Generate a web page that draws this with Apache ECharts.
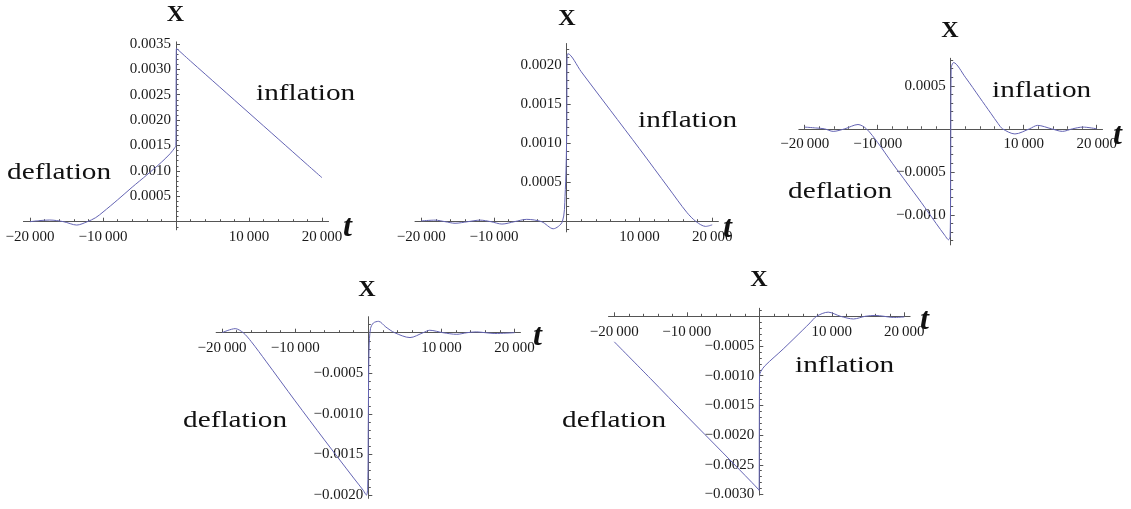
<!DOCTYPE html>
<html>
<head>
<meta charset="utf-8">
<script src="https://cdn.jsdelivr.net/npm/echarts@6/dist/echarts.min.js"></script>
<style>
  html, body { margin: 0; padding: 0; background: #ffffff; }
  #chart { width: 1131px; height: 509px; }
</style>
</head>
<body>
<div id="chart"></div>
<script>
// ---- tick labels ----
const tTickLabels = [-20000, -10000, 10000, 20000];
const xTicksP1 = [0.0005, 0.0010, 0.0015, 0.0020, 0.0025, 0.0030, 0.0035];
const xTicksP2 = [0.0005, 0.0010, 0.0015, 0.0020];
const xTicksP3 = [-0.0010, -0.0005, 0.0005];
const xTicksP4 = [-0.0020, -0.0015, -0.0010, -0.0005];
const xTicksP5 = [-0.0030, -0.0025, -0.0020, -0.0015, -0.0010, -0.0005];

// ---- curves X(t) ----
const p1T = [-20000, -18800, -17300, -15400, -13600, -12150, -11000, -10000, -8000, -6000, -4000, -2000, -800, -150, -20, 0, 25, 60, 2000, 6000, 10000, 14000, 18000, 20000];
const p1X = [0, 0.00002, 0.000033, 0, -0.000066, 0, 0.00008, 0.00019, 0.00043, 0.00068, 0.00092, 0.00117, 0.00134, 0.00146, 0.0015, 0.0018, 0.0030, 0.00341, 0.00316, 0.00265, 0.00214, 0.00163, 0.00112, 0.000866];

const p2T = [-20000, -18100, -16700, -15350, -13600, -11900, -10400, -8900, -7200, -5500, -3450, -1850, -600, -230, 0, 50, 150, 2000, 6000, 10000, 14000, 16500, 17800, 19100, 20000];
const p2X = [0.00001, 0.00002, 0, -0.00002, 0, 0.00002, 0, -0.00003, 0, 0.00003, 0, -0.00009, 0, 0.00032, 0.0011, 0.0021, 0.00214, 0.00191, 0.00142, 0.00093, 0.00043, 0.00012, 0, -0.00006, -0.00004];

const p3T = [-20000, -18500, -17300, -16100, -14500, -12700, -11550, -10000, -8000, -6000, -4000, -2000, -800, -300, -80, 0, 60, 400, 2000, 4000, 5500, 6500, 7100, 8800, 10800, 11900, 13800, 15300, 16700, 18100, 20000];
const p3X = [0.00002, 0.00001, 0, -0.00003, 0, 0.00005, 0, -0.00016, -0.0004, -0.00063, -0.00086, -0.0011, -0.00124, -0.00129, -0.00125, -0.0004, 0.0007, 0.00077, 0.0006, 0.00036, 0.00018, 0.00006, 0, -0.00006, 0, 0.00004, 0, -0.00003, 0, 0.00002, 0];

const p4T = [-20000, -18200, -17100, -16000, -14000, -10000, -6000, -2000, -700, -250, -80, 0, 100, 300, 700, 1400, 2400, 3600, 5700, 7500, 8400, 10200, 12100, 13500, 14800, 16000, 17300, 20000];
const p4X = [0, 0.00005, 0, -0.00011, -0.00035, -0.00084, -0.00132, -0.00179, -0.00194, -0.0020, -0.0019, -0.0011, -0.0002, 0.00005, 0.00012, 0.00014, 0.00007, 0, -0.00006, 0, 0.00003, 0, -0.00002, 0, 0.00001, 0, -0.00001, 0];

const p5T = [-20000, -15000, -10000, -5000, -1000, -150, -30, 0, 40, 200, 800, 3300, 6000, 7000, 7900, 9500, 11200, 13000, 14600, 16000, 17200, 18500, 20000];
const p5X = [-0.00043, -0.00105, -0.00168, -0.0023, -0.0028, -0.00291, -0.00293, -0.002, -0.001, -0.00093, -0.00083, -0.00055, -0.00023, -0.00011, 0, 0.00007, 0, -0.000045, 0, 0.000015, 0, -0.00002, -0.00001];

// ---- panel layout: origin pixel, pixels per unit, axis extents ----
const panels = [
  { T: p1T, X: p1X, yTicks: xTicksP1, ox: 176,   oy: 221.7, sx: 0.0073,   sy: 50800, tMin: -20900, tMax: 20900, vMin: -0.00016, vMax: 0.00354 },
  { T: p2T, X: p2X, yTicks: xTicksP2, ox: 566.7, oy: 221.7, sx: 0.007275, sy: 78500, tMin: -20850, tMax: 20850, vMin: -0.00013, vMax: 0.00227 },
  { T: p3T, X: p3X, yTicks: xTicksP3, ox: 950.7, oy: 128.8, sx: 0.0073,   sy: 86000, tMin: -20800, tMax: 20800, vMin: -0.00135, vMax: 0.00082 },
  { T: p4T, X: p4X, yTicks: xTicksP4, ox: 368.3, oy: 332.7, sx: 0.007315, sy: 81200, tMin: -20800, tMax: 20800, vMin: -0.00204, vMax: 0.000197 },
  { T: p5T, X: p5X, yTicks: xTicksP5, ox: 759.3, oy: 316.3, sx: 0.00725,  sy: 59400, tMin: -20800, tMax: 20800, vMin: -0.00301, vMax: 0.000135 }
];

const AXIS_COLOR = '#555555';
const CURVE_COLOR = '#6464b4';
const TICK_FONT = 'Liberation Serif';
const TICK_SIZE = 15;

function fmtT(v) {
  const s = String(Math.abs(v));
  return (v < 0 ? '\u2212' : '') + s.slice(0, -3) + '\u2009' + s.slice(-3);
}
function fmtX(v) {
  return (v < 0 ? '\u2212' : '') + Math.abs(v).toFixed(4);
}
function stepsWithin(lo, hi, step) {
  const out = [];
  for (let k = Math.ceil(lo / step - 1e-9); k * step <= hi + 1e-12; k++) {
    if (k !== 0) out.push(+(k * step).toFixed(6));
  }
  return out;
}

const grids = [], xAxes = [], yAxes = [], series = [];
panels.forEach((p, i) => {
  grids.push({
    left: p.ox + p.tMin * p.sx,
    top: p.oy - p.vMax * p.sy,
    width: (p.tMax - p.tMin) * p.sx,
    height: (p.vMax - p.vMin) * p.sy,
    containLabel: false,
    outerBoundsMode: 'none'
  });
  // axes cross at the origin: shift them inward from the grid edges
  const xOffset = p.vMin * p.sy;   // negative: moves the t axis up to X = 0
  const yOffset = p.tMin * p.sx;   // negative: moves the X axis right to t = 0
  const xi = xAxes.length, yi = yAxes.length;
  // major t axis
  xAxes.push({
    type: 'value', gridIndex: i, min: p.tMin, max: p.tMax, position: 'bottom', offset: xOffset,
    axisLine: { show: true, onZero: false, lineStyle: { color: AXIS_COLOR, width: 1 } },
    axisTick: { show: true, inside: true, length: 4, customValues: tTickLabels, lineStyle: { color: AXIS_COLOR, width: 1 } },
    axisLabel: { show: true, customValues: tTickLabels, formatter: fmtT, fontFamily: TICK_FONT, fontSize: TICK_SIZE, color: '#1a1a1a', margin: 8 },
    splitLine: { show: false }
  });
  // minor t ticks
  xAxes.push({
    type: 'value', gridIndex: i, min: p.tMin, max: p.tMax, position: 'bottom', offset: xOffset,
    axisLine: { show: false, onZero: false },
    axisTick: { show: true, inside: true, length: 2.5, customValues: stepsWithin(-20000, 20000, 2000), lineStyle: { color: AXIS_COLOR, width: 1 } },
    axisLabel: { show: false },
    splitLine: { show: false }
  });
  // major X axis
  yAxes.push({
    type: 'value', gridIndex: i, min: p.vMin, max: p.vMax, position: 'left', offset: yOffset,
    axisLine: { show: true, onZero: false, lineStyle: { color: AXIS_COLOR, width: 1 } },
    axisTick: { show: true, inside: true, length: 4, customValues: p.yTicks, lineStyle: { color: AXIS_COLOR, width: 1 } },
    axisLabel: { show: true, customValues: p.yTicks, formatter: fmtX, fontFamily: TICK_FONT, fontSize: TICK_SIZE, color: '#1a1a1a', margin: 5 },
    splitLine: { show: false }
  });
  // minor X ticks
  yAxes.push({
    type: 'value', gridIndex: i, min: p.vMin, max: p.vMax, position: 'left', offset: yOffset,
    axisLine: { show: false, onZero: false },
    axisTick: { show: true, inside: true, length: 2.5, customValues: stepsWithin(p.vMin, p.vMax, 0.0001), lineStyle: { color: AXIS_COLOR, width: 1 } },
    axisLabel: { show: false },
    splitLine: { show: false }
  });
  series.push({
    type: 'line', xAxisIndex: xi, yAxisIndex: yi,
    data: p.T.map((t, k) => [t, p.X[k]]),
    showSymbol: false, symbol: 'none', smooth: 0.3,
    lineStyle: { color: CURVE_COLOR, width: 1 },
    silent: true, animation: false, z: 5
  });
});

// ---- annotation text ----
const AX_FONT = "bold 24px 'Liberation Serif'";
const T_FONT = "italic bold 32px 'Liberation Serif'";
const WORD_FONT = "24px 'Liberation Serif'";
function txt(text, x, y, font, align, scaleX) {
  return {
    type: 'text', x: x, y: y, scaleX: scaleX || 1, silent: true, z: 10,
    style: { text: text, x: 0, y: 0, font: font, fill: '#111111',
             align: align, textAlign: align, verticalAlign: 'middle', textVerticalAlign: 'middle' }
  };
}
const WS = 1.22;
const graphics = [
  txt('X', 175.5, 15, AX_FONT, 'center'),
  txt('X', 567, 19, AX_FONT, 'center'),
  txt('X', 950, 30.3, AX_FONT, 'center'),
  txt('X', 367, 289.3, AX_FONT, 'center'),
  txt('X', 759, 279.3, AX_FONT, 'center'),
  txt('t', 343, 227.8, T_FONT, 'left'),
  txt('t', 723, 228.8, T_FONT, 'left'),
  txt('t', 1113, 135.8, T_FONT, 'left'),
  txt('t', 533, 336.8, T_FONT, 'left'),
  txt('t', 920, 320.8, T_FONT, 'left'),
  txt('inflation', 256, 93.3, WORD_FONT, 'left', WS),
  txt('deflation', 7, 172.3, WORD_FONT, 'left', WS),
  txt('inflation', 638, 120.3, WORD_FONT, 'left', WS),
  txt('inflation', 992, 90.3, WORD_FONT, 'left', WS),
  txt('deflation', 788, 191.3, WORD_FONT, 'left', WS),
  txt('deflation', 183, 420.3, WORD_FONT, 'left', WS),
  txt('inflation', 795, 365.3, WORD_FONT, 'left', WS),
  txt('deflation', 562, 420.3, WORD_FONT, 'left', WS)
];

const chart = echarts.init(document.getElementById('chart'), null, { renderer: 'canvas' });
chart.setOption({
  backgroundColor: '#ffffff',
  animation: false,
  grid: grids,
  xAxis: xAxes,
  yAxis: yAxes,
  series: series,
  graphic: { elements: graphics }
});
</script>
</body>
</html>
